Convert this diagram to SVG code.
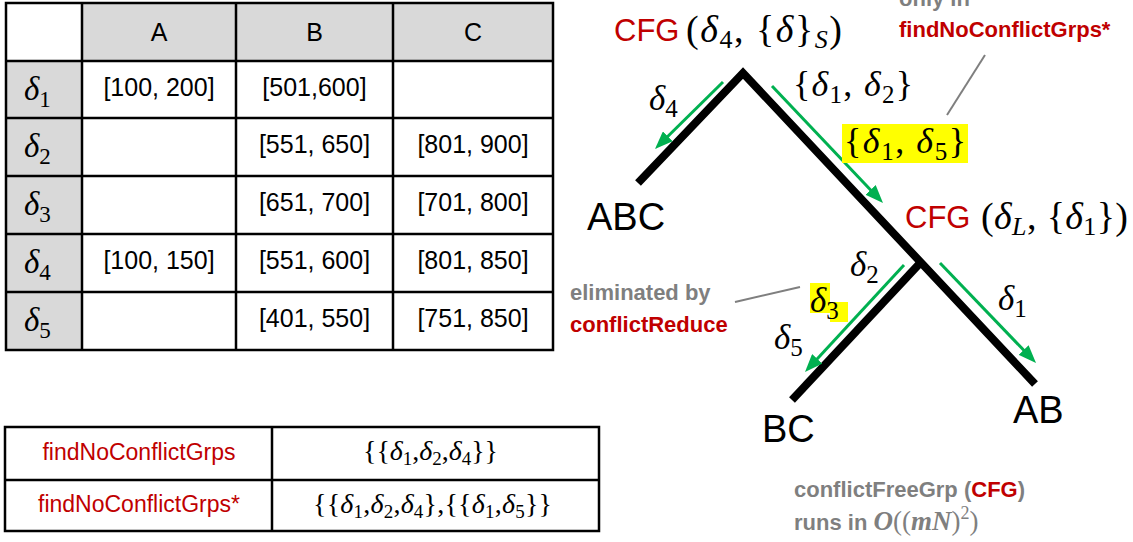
<svg xmlns="http://www.w3.org/2000/svg" width="1133" height="542" viewBox="0 0 1133 542">
<style>
.grid{fill:none;stroke:#000;stroke-width:2.5}
.hdr{fill:#d9d9d9}
.t{font-family:"Liberation Sans",Arial,sans-serif;font-size:25px;fill:#000;text-anchor:middle}
.m{font-family:"Liberation Serif","Times New Roman",serif;fill:#000}
.i{font-style:italic}
.red{font-family:"Liberation Sans",Arial,sans-serif;font-size:23px;fill:#c00000;text-anchor:middle}
.cfg{font-family:"Liberation Sans",Arial,sans-serif;font-size:31px;fill:#c00000}
.lbl{font-family:"Liberation Sans",Arial,sans-serif;font-size:38px;fill:#000}
.note{font-family:"Liberation Sans",Arial,sans-serif;font-size:22px;font-weight:bold;fill:#7f7f7f}
.notered{font-family:"Liberation Sans",Arial,sans-serif;font-size:22px;font-weight:bold;fill:#c00000}
.branch{fill:none;stroke:#000;stroke-width:8;stroke-linejoin:miter;stroke-miterlimit:10}
.flow{stroke:#00b050;stroke-width:3;fill:none;marker-end:url(#ah)}
.lead{stroke:#7f7f7f;stroke-width:2;fill:none}
.hl{fill:#ffff00}
</style>
<defs>
<marker id="ah" markerUnits="userSpaceOnUse" markerWidth="18" markerHeight="14" viewBox="0 0 18 14" refX="8" refY="7" orient="auto"><path d="M0,0 L18,7 L0,14 z" fill="#00b050"/></marker>
</defs>

<g id="table1">
<rect class="hdr" x="82" y="3" width="471" height="58"/>
<rect class="hdr" x="6" y="61" width="76" height="289"/>
<rect class="grid" x="6" y="3" width="547" height="347"/>
<path class="grid" d="M82,3V350M236,3V350M393,3V350M6,61H553M6,118H553M6,176H553M6,234H553M6,292H553"/>
<text class="t" x="159" y="41">A</text>
<text class="t" x="314.5" y="41">B</text>
<text class="t" x="473" y="41">C</text>
<text class="m i" x="24" y="100" font-size="33">δ<tspan font-style="normal" font-size="23" dy="7">1</tspan></text>
<text class="m i" x="24" y="157" font-size="33">δ<tspan font-style="normal" font-size="23" dy="7">2</tspan></text>
<text class="m i" x="24" y="215" font-size="33">δ<tspan font-style="normal" font-size="23" dy="7">3</tspan></text>
<text class="m i" x="24" y="273" font-size="33">δ<tspan font-style="normal" font-size="23" dy="7">4</tspan></text>
<text class="m i" x="24" y="331" font-size="33">δ<tspan font-style="normal" font-size="23" dy="7">5</tspan></text>
<text class="t" x="159" y="96">[100, 200]</text>
<text class="t" x="314.5" y="96">[501,600]</text>
<text class="t" x="314.5" y="153">[551, 650]</text>
<text class="t" x="473" y="153">[801, 900]</text>
<text class="t" x="314.5" y="211">[651, 700]</text>
<text class="t" x="473" y="211">[701, 800]</text>
<text class="t" x="159" y="269">[100, 150]</text>
<text class="t" x="314.5" y="269">[551, 600]</text>
<text class="t" x="473" y="269">[801, 850]</text>
<text class="t" x="314.5" y="327">[401, 550]</text>
<text class="t" x="473" y="327">[751, 850]</text>
</g>

<g id="table2">
<rect class="grid" x="5" y="427" width="594" height="104"/>
<path class="grid" d="M272,427V531M5,480H599"/>
<text class="red" x="139" y="460">findNoConflictGrps</text>
<text class="red" x="139" y="512">findNoConflictGrps*</text>
<text class="m" x="363" y="460" font-size="28" textLength="135" lengthAdjust="spacing">{{<tspan class="i">δ</tspan><tspan font-size="19" dy="5">1</tspan><tspan dy="-5">,</tspan><tspan class="i">δ</tspan><tspan font-size="19" dy="5">2</tspan><tspan dy="-5">,</tspan><tspan class="i">δ</tspan><tspan font-size="19" dy="5">4</tspan><tspan dy="-5">}}</tspan></text>
<text class="m" x="313" y="513" font-size="28" textLength="239" lengthAdjust="spacing">{{<tspan class="i">δ</tspan><tspan font-size="19" dy="5">1</tspan><tspan dy="-5">,</tspan><tspan class="i">δ</tspan><tspan font-size="19" dy="5">2</tspan><tspan dy="-5">,</tspan><tspan class="i">δ</tspan><tspan font-size="19" dy="5">4</tspan><tspan dy="-5">},{{</tspan><tspan class="i">δ</tspan><tspan font-size="19" dy="5">1</tspan><tspan dy="-5">,</tspan><tspan class="i">δ</tspan><tspan font-size="19" dy="5">5</tspan><tspan dy="-5">}}</tspan></text>
</g>

<g id="tree">
<polyline class="branch" points="638,183 743,73 1035,384"/>
<line class="branch" x1="922" y1="261" x2="792" y2="400"/>
</g>

<g id="connectors">
<line class="flow" x1="723" y1="82" x2="662.1" y2="142"/>
<line class="flow" x1="772" y1="86" x2="876.1" y2="195.7"/>
<line class="flow" x1="904" y1="265" x2="811.8" y2="364.7"/>
<line class="flow" x1="940" y1="263" x2="1029.1" y2="355.8"/>
<line class="lead" x1="985" y1="55" x2="947" y2="115"/>
<line class="lead" x1="735" y1="302" x2="800" y2="287"/>
</g>

<g id="root-label">
<text class="cfg" x="614" y="41">CFG</text>
<text class="m" x="686" y="42" font-size="38" textLength="156" lengthAdjust="spacing">(<tspan class="i">δ</tspan><tspan font-size="26" dy="6">4</tspan><tspan dy="-6">, {</tspan><tspan class="i">δ</tspan>}<tspan class="i" font-size="26" dy="6">S</tspan><tspan dy="-6">)</tspan></text>
</g>

<g id="mid-label">
<text class="cfg" x="905" y="228">CFG</text>
<text class="m" x="981" y="229" font-size="38" textLength="147" lengthAdjust="spacing">(<tspan class="i">δ</tspan><tspan class="i" font-size="26" dy="6">L</tspan><tspan dy="-6">, {</tspan><tspan class="i">δ</tspan><tspan font-size="26" dy="6">1</tspan><tspan dy="-6">})</tspan></text>
</g>

<g id="edge-labels">
<text class="m" x="649" y="110" font-size="35"><tspan class="i">δ</tspan><tspan font-size="25" dy="7">4</tspan></text>
<text class="m" x="793" y="96" font-size="36" textLength="120" lengthAdjust="spacing">{<tspan class="i">δ</tspan><tspan font-size="25" dy="7">1</tspan><tspan dy="-7">, </tspan><tspan class="i">δ</tspan><tspan font-size="25" dy="7">2</tspan><tspan dy="-7">}</tspan></text>
<rect class="hl" x="842" y="124" width="126" height="39"/>
<text class="m" x="844" y="153" font-size="36" textLength="122" lengthAdjust="spacing">{<tspan class="i">δ</tspan><tspan font-size="25" dy="7">1</tspan><tspan dy="-7">, </tspan><tspan class="i">δ</tspan><tspan font-size="25" dy="7">5</tspan><tspan dy="-7">}</tspan></text>
<text class="m" x="850" y="276" font-size="35"><tspan class="i">δ</tspan><tspan font-size="25" dy="7">2</tspan></text>
<path class="hl" d="M810,283H830V302H848V322H830V313H810Z"/>
<text class="m" x="810" y="312" font-size="35"><tspan class="i">δ</tspan><tspan font-size="25" dy="7">3</tspan></text>
<text class="m" x="774" y="349" font-size="35"><tspan class="i">δ</tspan><tspan font-size="25" dy="7">5</tspan></text>
<text class="m" x="998" y="310" font-size="35"><tspan class="i">δ</tspan><tspan font-size="25" dy="7">1</tspan></text>
</g>

<g id="leaf-ABC"><text class="lbl" x="587" y="230">ABC</text></g>
<g id="leaf-BC"><text class="lbl" x="762" y="442">BC</text></g>
<g id="leaf-AB"><text class="lbl" x="1013" y="423">AB</text></g>

<g id="note-only">
<text class="note" x="899" y="6">only in</text>
<text class="notered" x="899" y="37">findNoConflictGrps*</text>
</g>

<g id="note-eliminated">
<text class="note" x="570" y="300">eliminated by</text>
<text class="notered" x="570" y="332">conflictReduce</text>
</g>

<g id="note-cfg">
<text class="note" x="794" y="497">conflictFreeGrp (<tspan fill="#c00000">CFG</tspan>)</text>
<text class="note" x="794" y="530">runs in <tspan font-family="Liberation Serif, serif" font-style="italic" font-size="27">O</tspan><tspan font-family="Liberation Serif, serif" font-weight="normal" font-size="27">((</tspan><tspan font-family="Liberation Serif, serif" font-style="italic" font-size="27">mN</tspan><tspan font-family="Liberation Serif, serif" font-weight="normal" font-size="27">)</tspan><tspan font-family="Liberation Serif, serif" font-weight="normal" font-size="18" dy="-11">2</tspan><tspan font-family="Liberation Serif, serif" font-weight="normal" font-size="27" dy="11">)</tspan></text>
</g>
</svg>
